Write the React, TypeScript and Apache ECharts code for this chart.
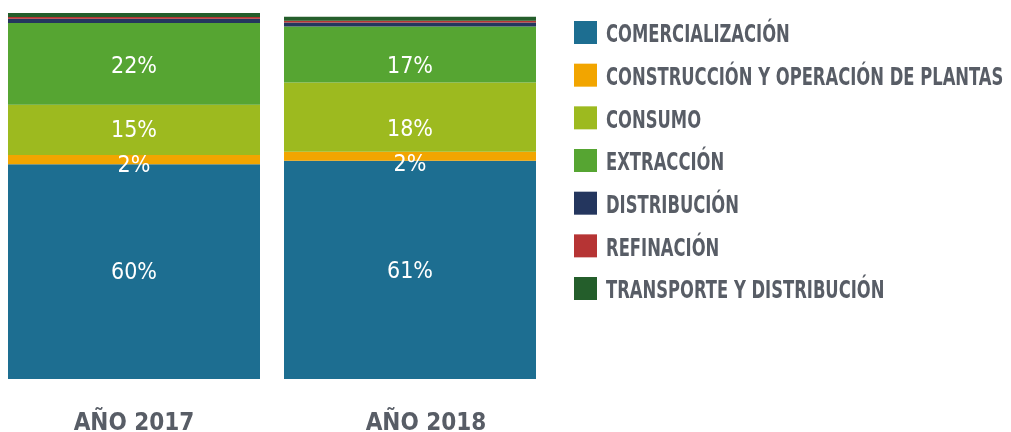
import React, { useEffect, useRef } from "react";
import * as echarts from "echarts";

const categories = ["AÑO 2017", "AÑO 2018"];
const seriesNames = [
  "COMERCIALIZACIÓN",
  "CONSTRUCCIÓN Y OPERACIÓN DE PLANTAS",
  "CONSUMO",
  "EXTRACCIÓN",
  "DISTRIBUCIÓN",
  "REFINACIÓN",
  "TRANSPORTE Y DISTRIBUCIÓN",
];
const comercializacion = [58.7, 59.6];
const construccion = [2.5, 2.5];
const consumo = [13.7, 18.9];
const extraccion = [22.4, 15.3];
const distribucion = [1.1, 1.1];
const refinacion = [0.5, 0.5];
const transporte = [1.1, 1.1];

const comercializacionLabels = ["60%", "61%"];
const construccionLabels = ["2%", "2%"];
const consumoLabels = ["15%", "18%"];
const extraccionLabels = ["22%", "17%"];

const colors = ["#1d6e91", "#f2a500", "#9dba1f", "#56a532", "#24365e", "#b63434", "#245e2b"];
const FONT = "'DejaVu Sans Condensed', 'Noto Sans', sans-serif";
const TEXT_GRAY = "#585d66";

export default function App() {
  const ref = useRef<HTMLDivElement>(null);
  useEffect(() => {
    if (!ref.current) return;
    const chart = echarts.init(ref.current, null, { renderer: "svg" });
    const values = [comercializacion, construccion, consumo, extraccion, distribucion, refinacion, transporte];
    const labels: (string[] | null)[] = [comercializacionLabels, construccionLabels, consumoLabels, extraccionLabels, null, null, null];
    // vertical label shifts (the original keeps the 2018 labels level with the 2017 ones)
    const labelShift: number[][] = [[-1, 0], [4, 7], [-1, 11], [1, 10], [0, 0], [0, 0], [0, 0]];
    const series = seriesNames.map((name, i) => ({
      name,
      type: "bar",
      stack: "total",
      barWidth: 252,
      clip: false,
      itemStyle: { color: colors[i] },
      data: values[i].map((v, j) => ({
        value: v,
        label: labels[i]
          ? {
              show: true,
              position: "inside",
              formatter: labels[i]![j],
              color: "#ffffff",
              fontFamily: FONT,
              fontSize: 23,
              fontWeight: "normal",
              offset: [0, labelShift[i][j]],
            }
          : { show: false },
      })),
    }));
    const legendTop = 21;
    const legendStep = 42.67;
    const legendTexts = seriesNames.map((name, i) => ({
      type: "text",
      x: 606,
      y: legendTop + 11.5 + 1.5 + i * legendStep,
      scaleX: 0.76,
      style: {
        text: name,
        fill: TEXT_GRAY,
        font: `bold 24px ${FONT}`,
        textAlign: "left",
        textVerticalAlign: "middle",
      },
    }));
    chart.setOption({
      animation: false,
      grid: { left: 134, width: 276, top: 13, bottom: 53, containLabel: false, outerBoundsMode: "none" },
      legend: {
        orient: "vertical",
        left: 574,
        top: legendTop,
        padding: 0,
        itemWidth: 23,
        itemHeight: 23,
        itemGap: legendStep - 23,
        icon: "rect",
        formatter: () => "",
        textStyle: { fontSize: 1 },
        data: seriesNames,
      },
      graphic: legendTexts,
      xAxis: {
        type: "category",
        data: categories,
        boundaryGap: false,
        axisLine: { show: false },
        axisTick: { show: false },
        axisLabel: {
          margin: 31,
          formatter: (v: string, idx: number) => (idx === 1 ? `{b|${v}}` : `{a|${v}}`),
          rich: {
            a: { color: TEXT_GRAY, fontFamily: FONT, fontWeight: "bold", fontSize: 24 },
            b: { color: TEXT_GRAY, fontFamily: FONT, fontWeight: "bold", fontSize: 24, padding: [0, 0, 0, 32] },
          },
        },
      },
      yAxis: { type: "value", min: 0, max: 100, show: false, splitLine: { show: false } },
      series,
    });
    return () => chart.dispose();
  }, []);
  return <div ref={ref} style={{ position: "fixed", left: 0, top: 0, width: 1011, height: 432 }} />;
}
